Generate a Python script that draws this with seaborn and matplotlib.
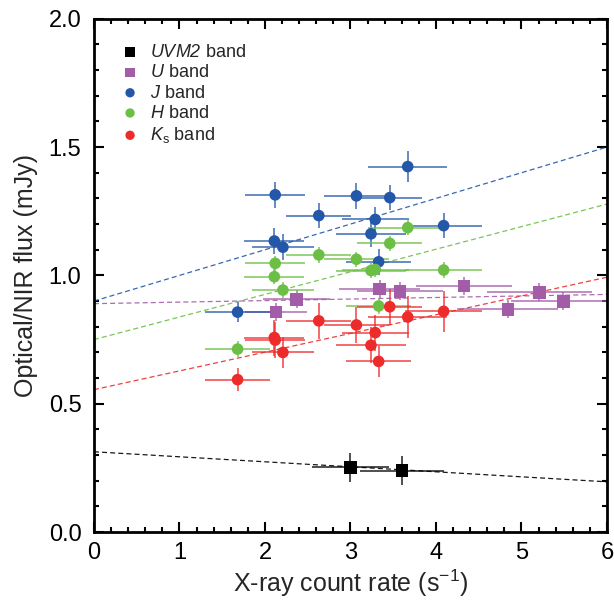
import numpy as np
import pandas as pd
import seaborn as sns
import matplotlib
matplotlib.use("Agg")
import matplotlib.pyplot as plt
from matplotlib.ticker import MultipleLocator

### DATA
bands = ["UVM2", "U", "J", "H", "Ks"]
# \mathsf is mapped to the italic face below, so the digit in UVM2 is slanted too
labels = [r"$\mathsf{UVM2}$ band", r"$\mathsf{U}$ band", r"$\mathsf{J}$ band",
          r"$\mathsf{H}$ band", r"$\mathsf{K}_\mathrm{s}$ band"]
colors = ["#000000", "#a25ca8", "#2457a8", "#6cbf45", "#ee2b2b"]
markers = ["s", "s", "o", "o", "o"]

uvm2_x = [3.00, 3.60]
uvm2_xerr = [0.45, 0.49]
uvm2_y = [0.252, 0.240]
uvm2_yerr = [0.055, 0.055]

u_x = [2.13, 2.37, 3.34, 3.58, 4.33, 4.84, 5.21, 5.49]
u_xerr = [0.36, 0.39, 0.47, 0.50, 0.56, 0.59, 0.61, 0.61]
u_y = [0.857, 0.907, 0.947, 0.938, 0.958, 0.868, 0.934, 0.899]
u_yerr = [0.035, 0.035, 0.035, 0.035, 0.035, 0.035, 0.035, 0.035]

epoch_x = [1.68, 2.11, 2.12, 2.21, 2.63, 3.07, 3.24, 3.29, 3.33, 3.46, 3.67, 4.09]
epoch_xerr = [0.38, 0.35, 0.35, 0.36, 0.38, 0.38, 0.41, 0.39, 0.38, 0.38, 0.46, 0.45]

j_y = [0.857, 1.134, 1.314, 1.110, 1.233, 1.310, 1.162, 1.218, 1.053, 1.303, 1.424, 1.194]
j_yerr = [0.04, 0.05, 0.05, 0.05, 0.05, 0.05, 0.05, 0.05, 0.05, 0.05, 0.06, 0.05]

h_y = [0.713, 0.995, 1.047, 0.943, 1.080, 1.063, 1.019, 1.023, 0.881, 1.125, 1.186, 1.021]
h_yerr = [0.03, 0.03, 0.03, 0.03, 0.03, 0.03, 0.03, 0.03, 0.03, 0.03, 0.03, 0.03]

ks_y = [0.594, 0.758, 0.748, 0.700, 0.823, 0.807, 0.728, 0.777, 0.665, 0.878, 0.838, 0.860]
ks_yerr = [0.045, 0.07, 0.07, 0.06, 0.07, 0.07, 0.07, 0.07, 0.06, 0.07, 0.08, 0.08]

# linear fits drawn as dashed lines: intercept and slope
fit_intercept = [0.313, 0.890, 0.900, 0.750, 0.555]
fit_slope = [-0.0195, 0.006, 0.100, 0.088, 0.073]

xs = [uvm2_x, u_x, epoch_x, epoch_x, epoch_x]
xerrs = [uvm2_xerr, u_xerr, epoch_xerr, epoch_xerr, epoch_xerr]
ys = [uvm2_y, u_y, j_y, h_y, ks_y]
yerrs = [uvm2_yerr, u_yerr, j_yerr, h_yerr, ks_yerr]

### STYLE
sns.set_theme(style="ticks")
plt.rcParams['font.family'] = ['Liberation Sans', 'DejaVu Sans']
plt.rcParams['mathtext.fontset'] = 'custom'
plt.rcParams['mathtext.rm'] = 'Liberation Sans'
plt.rcParams['mathtext.it'] = 'Liberation Sans:italic'
plt.rcParams['mathtext.sf'] = 'Liberation Sans:italic'

fig = plt.figure(figsize=(6.14, 6.04), dpi=100)
ax = fig.add_axes([0.153, 0.119, 0.8355, 0.850])

line_x = np.array([0, 6])
for i in range(len(bands)):
    fit_df = pd.DataFrame({"x": line_x, "y": fit_intercept[i] + fit_slope[i] * line_x})
    sns.lineplot(data=fit_df, x="x", y="y", ax=ax, color=colors[i], lw=0.9,
                 linestyle=(0, (4, 2.5)), zorder=1, alpha=0.9)

for i in range(len(bands)):
    ax.errorbar(xs[i], ys[i], xerr=xerrs[i], yerr=yerrs[i], fmt='none',
                ecolor=colors[i], elinewidth=1.3, alpha=0.75, zorder=2)
    df = pd.DataFrame({"x": xs[i], "y": ys[i]})
    sns.scatterplot(data=df, x="x", y="y", ax=ax, color=colors[i], marker=markers[i],
                    s=70 if markers[i] == "o" else 80, edgecolor="none", zorder=3,
                    label=labels[i])

ax.set_xlim(0, 6)
ax.set_ylim(0, 2.0)
ax.xaxis.set_major_locator(MultipleLocator(1))
ax.xaxis.set_minor_locator(MultipleLocator(0.2))
ax.yaxis.set_major_locator(MultipleLocator(0.5))
ax.yaxis.set_minor_locator(MultipleLocator(0.1))
ax.yaxis.set_major_formatter(matplotlib.ticker.FormatStrFormatter('%.1f'))
ax.tick_params(which='both', direction='in', top=True, right=True, labelsize=17,
               colors='black', width=1.5)
ax.tick_params(which='major', length=7)
ax.tick_params(axis='x', which='major', pad=7)
ax.tick_params(axis='y', which='major', pad=9)
ax.tick_params(which='minor', length=3.5)
for sp in ax.spines.values():
    sp.set_linewidth(2)
    sp.set_color('black')

ax.set_xlabel(r"X-ray count rate (s$^{-1}$)", fontsize=18, labelpad=3)
ax.set_ylabel("Optical/NIR flux (mJy)", fontsize=18, labelpad=8)

leg = ax.legend(loc='upper left', frameon=False, fontsize=13, handletextpad=0.5,
                labelspacing=0.18, borderaxespad=1.0, handlelength=1.2,
                markerscale=0.8)

fig.savefig("out.png", dpi=100)
